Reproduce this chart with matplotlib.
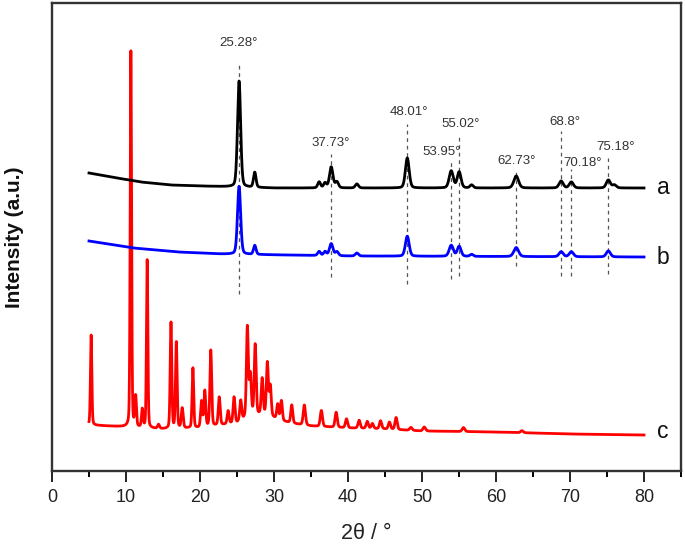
import numpy as np
import matplotlib
matplotlib.use("Agg")
import matplotlib.pyplot as plt
from matplotlib.ticker import MultipleLocator

plt.rcParams['font.family'] = ['Liberation Sans', 'DejaVu Sans']

# ---------------- data ----------------
# sample a (black): baseline and peaks (position, height, FWHM)
a_base_x = [5, 8, 12, 16, 20, 30, 40, 80]
a_base_y = [298, 294, 289, 286, 285, 283, 283, 283]
a_pk_pos = [25.28, 27.4, 36.1, 36.9, 37.73, 38.5, 41.2, 48.01, 53.95, 55.02, 56.7, 62.73, 68.8, 70.18, 75.18, 76.0]
a_pk_h   = [106, 15, 6, 5, 21, 6, 4, 30, 17, 16, 3, 12, 7, 6, 8, 3]
a_pk_w   = [0.5, 0.4, 0.45, 0.45, 0.55, 0.5, 0.5, 0.6, 0.65, 0.6, 0.5, 0.75, 0.65, 0.65, 0.65, 0.6]

# sample b (blue)
b_base_x = [5, 11, 17, 23, 40, 80]
b_base_y = [230, 223, 219, 217, 215, 214]
b_pk_pos = [25.28, 27.4, 36.1, 36.9, 37.73, 38.5, 41.2, 48.01, 53.95, 55.02, 56.7, 62.73, 68.8, 70.18, 75.18]
b_pk_h   = [68, 9, 4, 4, 12, 4, 3, 20, 11, 10, 2, 9, 5, 5, 6]
b_pk_w   = [0.5, 0.4, 0.45, 0.45, 0.55, 0.5, 0.5, 0.6, 0.65, 0.6, 0.5, 0.75, 0.65, 0.65, 0.65]

# sample c (red)
c_base_x = [5, 10, 15, 20, 25, 27, 29, 31, 33, 35, 40, 45, 50, 60, 70, 80]
c_base_y = [46, 44, 42, 43, 48, 56, 56, 50, 47, 45, 43, 42, 40, 39, 37, 36]
c_pk_pos = [5.29, 10.66, 11.3, 12.2, 12.86, 14.4, 16.08, 16.8, 17.6, 19.04, 20.2, 20.65, 21.46,
            22.6, 23.8, 24.6, 25.5, 26.4, 26.8, 27.46, 28.4, 29.1, 29.5, 30.5, 31.0, 32.4,
            34.1, 36.4, 38.4, 39.8, 41.5, 42.6, 43.3, 44.4, 45.6, 46.5, 48.5, 50.3, 55.6, 63.5]
c_pk_h   = [90, 376, 30, 18, 168, 4, 106, 86, 20, 60, 26, 36, 76,
            28, 13, 26, 20, 90, 40, 70, 36, 52, 30, 15, 20, 18,
            20, 16, 15, 9, 8, 7, 5, 8, 7, 12, 3, 4, 4, 2]
c_pk_w   = [0.22, 0.22, 0.25, 0.25, 0.22, 0.3, 0.25, 0.25, 0.3, 0.25, 0.28, 0.28, 0.28,
            0.3, 0.3, 0.3, 0.3, 0.3, 0.3, 0.3, 0.3, 0.3, 0.3, 0.3, 0.3, 0.3,
            0.35, 0.35, 0.35, 0.35, 0.35, 0.35, 0.35, 0.35, 0.35, 0.35, 0.4, 0.4, 0.4, 0.4]

# annotated anatase reflections
peak_labels = ['25.28°', '37.73°', '48.01°', '53.95°', '55.02°', '62.73°', '68.8°', '70.18°', '75.18°']
peak_pos    = [25.28, 37.73, 48.01, 53.95, 55.02, 62.73, 68.8, 70.18, 75.18]
line_top    = [409, 317, 347, 312, 334, 300, 340, 302, 313]
line_bottom = [177, 194, 187, 192, 195, 205, 195, 195, 197]
label_x     = [25.2, 37.7, 48.3, 52.7, 55.2, 62.8, 69.3, 71.7, 76.1]
label_y     = [428, 328, 359, 319, 347, 310, 349, 308, 324]

series_names = ['a', 'b', 'c']
series_name_y = [283, 214, 40]


def profile(x, bx, by, pos, h, w):
    y = np.interp(x, bx, by)
    for p, hh, ww in zip(pos, h, w):
        g = np.exp(-4 * np.log(2) * ((x - p) / ww) ** 2)
        l = 1.0 / (1.0 + 4 * ((x - p) / ww) ** 2)
        y = y + hh * (0.75 * g + 0.25 * l)
    return y


x = np.arange(5.0, 80.0001, 0.01)
ya = profile(x, a_base_x, a_base_y, a_pk_pos, a_pk_h, a_pk_w)
yb = profile(x, b_base_x, b_base_y, b_pk_pos, b_pk_h, b_pk_w)
yc = profile(x, c_base_x, c_base_y, c_pk_pos, c_pk_h, c_pk_w)

fig = plt.figure(figsize=(6.85, 5.44), dpi=100)
ax = fig.add_axes([52 / 685, (544 - 471) / 544, (681 - 52) / 685, (471 - 3) / 544])

ax.plot(x, yc, color='#ff0000', lw=2.0, zorder=3)
ax.plot(x, yb, color='#0000ff', lw=2.0, zorder=3)
ax.plot(x, ya, color='#000000', lw=2.0, zorder=3)

for p, t, b in zip(peak_pos, line_top, line_bottom):
    ax.plot([p, p], [b, t], color='#555555', lw=0.9, ls=(0, (3, 3)), zorder=2)
for lab, lx, ly in zip(peak_labels, label_x, label_y):
    ax.text(lx, ly, lab, ha='center', va='center', fontsize=9.5, color='#333333')

for nm, ny in zip(series_names, series_name_y):
    ax.text(82.6, ny, nm, ha='center', va='center', fontsize=16.5, color='#111111')

ax.set_xlim(0, 85)
ax.set_ylim(0, 468)
ax.xaxis.set_major_locator(MultipleLocator(10))
ax.xaxis.set_minor_locator(MultipleLocator(5))
ax.set_yticks([])
ax.tick_params(axis='x', which='major', direction='out', length=8, width=1.4, labelsize=13, pad=5, colors='#222222')
ax.tick_params(axis='x', which='minor', direction='out', length=4.5, width=1.4)
for s in ax.spines.values():
    s.set_linewidth(1.7)
    s.set_color('#333333')

ax.set_xlabel('2θ / °', fontsize=15.5, labelpad=12, color='#222222')
ax.set_ylabel('Intensity (a.u.)', fontsize=15, fontweight='bold', labelpad=20, color='#111111')

fig.savefig('out.png', dpi=100)
